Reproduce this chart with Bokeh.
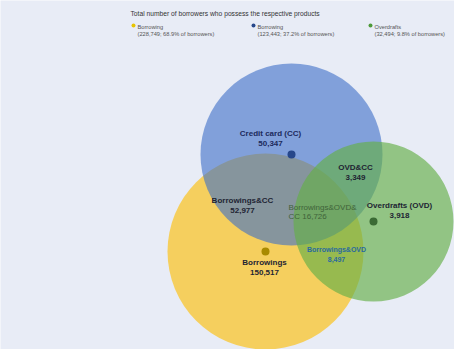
from bokeh.plotting import figure
from bokeh.models import Range1d
from bokeh.core.properties import value
from bokeh.embed import file_html
from bokeh.resources import INLINE

# ---- data ----
title_text = "Total number of borrowers who possess the respective products"
legend_names = ["Borrowing", "Borrowing", "Overdrafts"]
legend_counts = [228749, 123443, 32494]
legend_pct = [68.9, 37.2, 9.8]

set_names = ["Borrowings", "Credit card (CC)", "Overdrafts (OVD)"]
set_values = [150517, 50347, 3918]
pair_names = ["Borrowings&CC", "OVD&CC", "Borrowings&OVD"]
pair_values = [52977, 3349, 8497]
triple_name = "Borrowings&OVD&"
triple_value = 16726

# ---- layout (pixel coordinates of the picture) ----
BG = "#e8ecf6"
FONT = "Liberation Sans"
W, H = 454, 349
circ_x = [265, 291, 373]
circ_y = [251, 154, 221]
circ_r = [98, 91, 80]
fill = ["#f5cf5e", "#3c6ec8", "#64af46"]
alpha = [1.0, 0.6, 0.65]
dot_col = ["#a98a00", "#27478a", "#3b6a34"]

p = figure(width=W, height=H, output_backend="svg", toolbar_location=None,
           x_range=Range1d(0, W), y_range=Range1d(H, 0),
           min_border=0, background_fill_color=BG, border_fill_color=BG)
p.axis.visible = False
p.grid.visible = False
p.outline_line_color = None

for i in range(3):
    p.circle(x=[circ_x[i]], y=[circ_y[i]], radius=circ_r[i], fill_color=fill[i],
             fill_alpha=alpha[i], line_color=None)
for i in range(3):
    p.scatter(x=[circ_x[i]], y=[circ_y[i]], size=8, fill_color=dot_col[i], line_color=None)

# title
p.text(x=[130], y=[13], text=[title_text], text_font=value(FONT), text_font_size="6.7px",
       text_color="#333333", text_baseline="middle")

# legend
leg_x = [133, 253, 370]
leg_dot = ["#e8c400", "#27478a", "#4e9a3a"]
for i in range(3):
    p.scatter(x=[leg_x[i]], y=[25], size=4, fill_color=leg_dot[i], line_color=None)
    p.text(x=[leg_x[i] + 4], y=[26], text=[legend_names[i]], text_font=value(FONT),
           text_font_size="5.7px", text_color="#555555", text_baseline="middle")
    p.text(x=[leg_x[i] + 4], y=[33],
           text=["(%s; %.1f%% of borrowers)" % (f"{legend_counts[i]:,}", legend_pct[i])],
           text_font=value(FONT), text_font_size="5.7px", text_color="#555555",
           text_baseline="middle")

def lbl(x, y, name, val, color="#1e2433", size="8px", style="bold"):
    p.text(x=[x], y=[y], text=[name], text_font=value(FONT), text_font_size=size,
           text_font_style=style, text_color=color, text_align="center",
           text_baseline="middle")
    p.text(x=[x], y=[y + 9.5], text=[f"{val:,}"], text_font=value(FONT), text_font_size=size,
           text_font_style=style, text_color=color, text_align="center",
           text_baseline="middle")

lbl(264, 262, set_names[0], set_values[0])
lbl(270, 133, set_names[1], set_values[1], color="#1c2a5c")
lbl(399, 205, set_names[2], set_values[2])
lbl(242, 200, pair_names[0], pair_values[0])
lbl(355, 167, pair_names[1], pair_values[1])
lbl(336, 249, pair_names[2], pair_values[2], color="#2a6a9e", size="7px")

# triple
p.text(x=[288], y=[207], text=[triple_name], text_font=value(FONT), text_font_size="8px",
       text_color="#3f6339", text_baseline="middle")
p.text(x=[288], y=[216], text=[f"CC {triple_value:,}"], text_font=value(FONT),
       text_font_size="8px", text_color="#3f6339", text_baseline="middle")

open("out.html", "w").write(file_html(p, INLINE))
